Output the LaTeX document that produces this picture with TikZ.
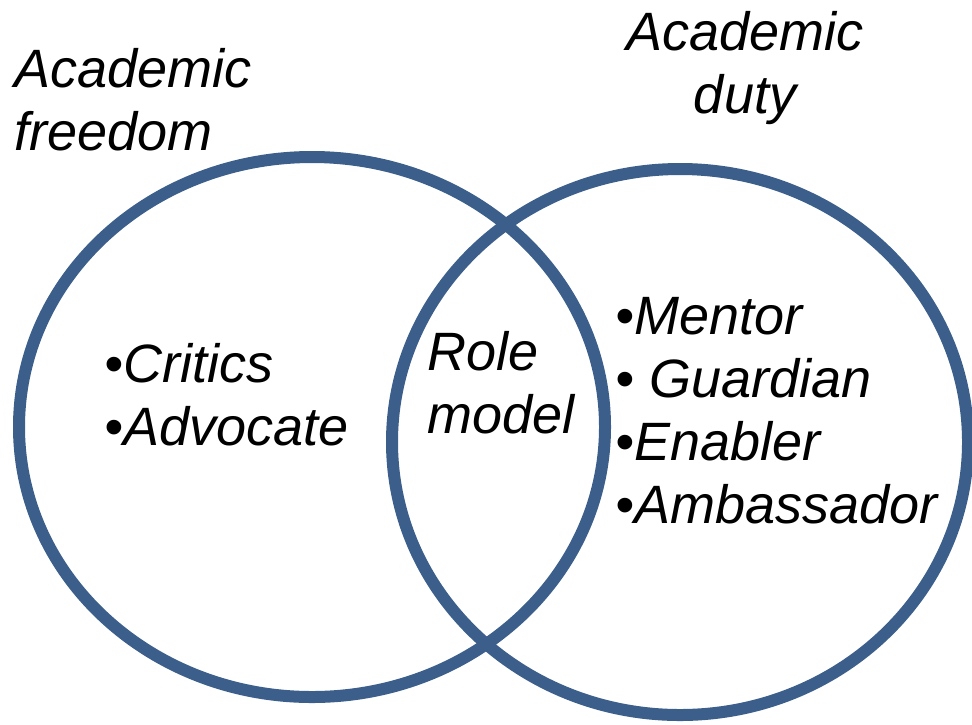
\documentclass[tikz,border=0pt]{standalone}
\usepackage{fontspec}
\setmainfont{Liberation Sans}
\usetikzlibrary{shapes.geometric, positioning}
\definecolor{ringblue}{HTML}{3B5E8B}
\tikzstyle{ring} = [ellipse, draw=ringblue, line width=6pt, inner sep=0pt]
\tikzstyle{venntext} = [inner sep=0pt, align=left,
  font=\itshape\fontsize{27}{31.5}\selectfont]

\begin{document}
\begin{tikzpicture}[x=0.5pt, y=-0.5pt]
    \useasboundingbox (0,0) rectangle (972,724);

    \node [ring, minimum width=293pt, minimum height=270pt] (freedom) at (312,427) {};
    \node [ring, minimum width=288pt, minimum height=273pt] (duty) at (680,442) {};

    % base anchor = baseline of last line
    \node [venntext, anchor=base west] (freedomtitle) at (14,150) {Academic\\freedom};
    \node [venntext, anchor=base, align=center] (dutytitle) at (745,113) {Academic\\duty};

    \node [venntext, anchor=base west] (freedomroles) at (104,445) {\textbullet Critics\\\textbullet Advocate};
    \node [venntext, anchor=base west] (shared) at (427,433) {Role\\model};
    \node [venntext, anchor=base west] (dutyroles) at (615,523) {\textbullet Mentor\\\textbullet\ Guardian\\\textbullet Enabler\\\textbullet Ambassador};
\end{tikzpicture}
\end{document}
